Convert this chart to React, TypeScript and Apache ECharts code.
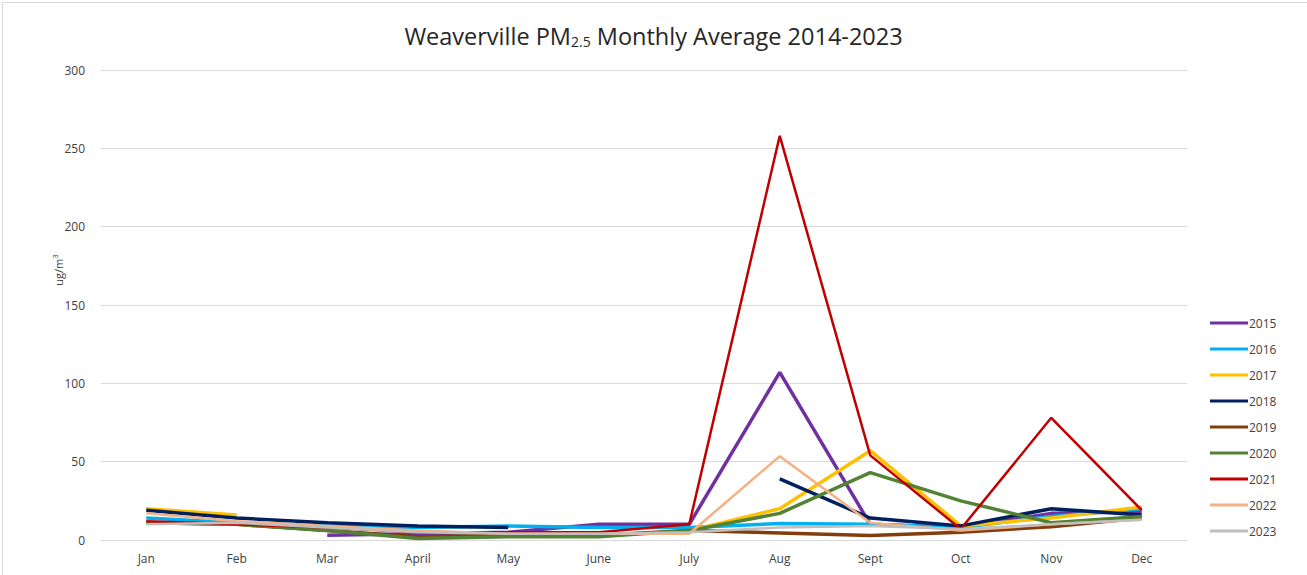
import React, { useEffect, useRef } from "react";
import * as echarts from "echarts";

const months = ["Jan", "Feb", "Mar", "April", "May", "June", "July", "Aug", "Sept", "Oct", "Nov", "Dec"];
const yTicks = [0, 50, 100, 150, 200, 250, 300];

const y2015 = [null, null, 3, 4, 5, 10, 10, 107, 10, 8, 17, 18];
const y2016 = [14, 11, 9, 8, 9, 8, 8, 10.5, 10, 8, 15, 20];
const y2017 = [20, 16, null, null, null, null, 6, 20, 57, 9, 14, 21];
const y2018 = [19, 14, 11, 9, 8, null, null, 39, 14, 9, 20, 16];
const y2019 = [11, 10, 6, 2, 3, 3, 6, 4.5, 2.8, 5, 8.5, 14];
const y2020 = [11, 10, 6, 1, 2, 2, 6, 17, 43, 25, 11, 15];
const y2021 = [12, 10, 8, 5, 5, 5, 10, 258, 54, 7, 78, 19];
const y2022 = [17, 12, 9, 6, 4, 4, 4, 53.5, 11, 6, 10, 13];
const y2023 = [10, 11, 8, 5, 4, 4, 5, 8, 9, 7, 10, 13];

const seriesDefs = [
  { name: "2015", data: y2015, color: "#7030A0", width: 3.5 },
  { name: "2016", data: y2016, color: "#00B0F0", width: 3.5 },
  { name: "2017", data: y2017, color: "#FFC000", width: 3.5 },
  { name: "2018", data: y2018, color: "#002060", width: 3.5 },
  { name: "2019", data: y2019, color: "#843C0C", width: 3.5 },
  { name: "2020", data: y2020, color: "#548235", width: 3.5 },
  { name: "2021", data: y2021, color: "#C00000", width: 2.5 },
  { name: "2022", data: y2022, color: "#F4B183", width: 2.5 },
  { name: "2023", data: y2023, color: "#BFBFBF", width: 2.5 },
];

export default function App() {
  const ref = useRef<HTMLDivElement>(null);
  useEffect(() => {
    if (!ref.current) return;
    const chart = echarts.init(ref.current, null, { renderer: "svg" });
    const font = "Open Sans, Liberation Sans, sans-serif";
    chart.setOption({
      animation: false,
      backgroundColor: "#ffffff",
      textStyle: { fontFamily: font },
      title: {
        text: "{a|Weaverville PM}{b|2.5}{a| Monthly Average 2014-2023}",
        left: "center",
        top: 16,
        textStyle: {
          fontWeight: "normal",
          rich: {
            a: { fontSize: 23.5, color: "#262626", fontFamily: font, fontWeight: "normal", lineHeight: 30 },
            b: { fontSize: 14, color: "#262626", fontFamily: font, fontWeight: "normal", padding: [11, 0, 0, 0] },
          },
        },
      },
      graphic: [
        {
          type: "rect",
          left: 0,
          top: 0,
          shape: { width: 1306, height: 574 },
          style: { fill: "none", stroke: "#d9d9d9", lineWidth: 1 },
          silent: true,
        },
      ],
      legend: {
        orient: "vertical",
        left: 1205,
        top: 311,
        height: 250,
        icon: "rect",
        itemWidth: 38,
        itemHeight: 3,
        itemGap: 12,
        textStyle: { fontSize: 12, color: "#404040", fontFamily: font, padding: [0, 0, 0, -4], lineHeight: 14 },
        data: seriesDefs.map((s) => s.name),
      },
      grid: { left: 101, right: 120, top: 70, bottom: 35 },
      xAxis: {
        type: "category",
        data: months,
        boundaryGap: true,
        axisLine: { lineStyle: { color: "#d9d9d9" } },
        axisTick: { show: false },
        axisLabel: { color: "#404040", fontSize: 12, margin: 12 },
      },
      yAxis: {
        type: "value",
        min: yTicks[0],
        max: yTicks[yTicks.length - 1],
        interval: 50,
        name: "{a|ug/m}{b|3}",
        nameLocation: "middle",
        nameRotate: 90,
        nameGap: 35,
        nameMoveOverlap: false,
        nameTextStyle: {
          padding: [0, 0, 0, 70],
          rich: {
            a: { fontSize: 11, color: "#404040", fontFamily: font },
            b: { fontSize: 8, color: "#404040", fontFamily: font, padding: [0, 0, 8, 0] },
          },
        },
        axisLine: { show: false },
        axisTick: { show: false },
        splitLine: { lineStyle: { color: "#d9d9d9" } },
        axisLabel: { color: "#404040", fontSize: 12, margin: 16 },
      },
      series: seriesDefs.map((s) => ({
        name: s.name,
        type: "line",
        data: s.data,
        showSymbol: false,
        symbol: "none",
        connectNulls: false,
        color: s.color,
        lineStyle: { color: s.color, width: s.width },
        itemStyle: { color: s.color },
      })),
    });
    return () => chart.dispose();
  }, []);
  return (
    <div
      ref={ref}
      style={{ position: "fixed", left: 0, top: 0, width: 1307, height: 575 }}
    />
  );
}
